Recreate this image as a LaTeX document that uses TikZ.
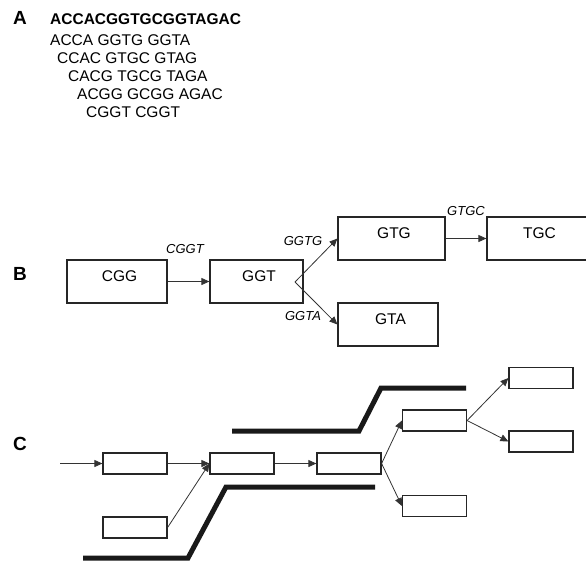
\documentclass[tikz,border=0pt]{standalone}
\usepackage{fontspec}
\setmainfont{Liberation Sans}
\usetikzlibrary{arrows.meta,positioning}
\tikzset{
  >={Triangle[length=8pt,width=7pt]},
  % panel letters and reads
  panel/.style={font=\fontsize{19}{22}\selectfont\bfseries,anchor=base west,inner sep=0pt},
  seq/.style={font=\fontsize{15.5}{18}\selectfont,anchor=base west,inner sep=0pt},
  % k-mer graph
  kbox/.style={draw=black!85,line width=1.2pt,inner sep=0pt,minimum height=43pt,
               text height=10pt,text depth=10pt,font=\fontsize{15.5}{18}\selectfont,
               execute at begin node={\hspace*{5pt}}},
  klbl/.style={font=\fontsize{13}{15}\selectfont\itshape,inner sep=1pt},
  karr/.style={->,draw=black!80,line width=0.8pt},
  % repeat scheme
  sbox/.style={draw=black!85,line width=1.2pt,inner sep=0pt,minimum width=64pt,
               minimum height=21pt},
  wall/.style={draw=black!90,line width=5pt},
}
\begin{document}
\begin{tikzpicture}[x=1pt,y=-1pt]
  \useasboundingbox (0,0) rectangle (586,560);
  % A
  \node[panel] (pa) at (13,24) {A};
  \node[seq,font=\fontsize{15.5}{18}\selectfont\bfseries] (genome) at (50,24) {ACCACGGTGCGGTAGAC};
  \foreach \i/\x/\y/\s in {1/50/45/{ACCA GGTG GGTA},2/57/63.3/{CCAC GTGC GTAG},
      3/68/81/{CACG TGCG TAGA},4/77/99.3/{ACGG GCGG AGAC},5/86/117.5/{CGGT CGGT}}
    \node[seq] (read\i) at (\x,\y) {\s};
  % B
  \node[panel] (pb) at (13,280) {B};
  \node[kbox,minimum width=100pt] (cgg) at (117,281.5) {CGG};
  \node[kbox,minimum width=93pt] (ggt) at (256.5,281.5) {GGT};
  \node[kbox,minimum width=107pt] (gtg) at (391.5,238.5) {GTG};
  \node[kbox,minimum width=100pt] (tgc) at (537,238.5) {TGC};
  \node[kbox,minimum width=100pt] (gta) at (388,324.5) {GTA};
  \coordinate (fork) at (295,282);
  \draw[karr] (cgg) -- (ggt);
  \draw[karr] (fork) -- (gtg.west);
  \draw[karr] (fork) -- (gta.west);
  \draw[karr] (gtg) -- (tgc);
  \node[klbl] (lcggt) at (185,249) {CGGT};
  \node[klbl] (lggtg) at (303,241) {GGTG};
  \node[klbl] (lggta) at (303,316) {GGTA};
  \node[klbl] (lgtgc) at (466,211) {GTGC};
  % C
  \node[panel] (pc) at (13,450.5) {C};
  \node[sbox] (c1) at (135,463.5) {};
  \node[sbox] (c2) at (135,527.5) {};
  \node[sbox] (c3) at (242,463.5) {};
  \node[sbox] (c4) at (349,463.5) {};
  \node[sbox] (c5) at (434.5,420.5) {};
  \node[sbox] (c6) at (434.5,506) {};
  \node[sbox] (c7) at (541,378) {};
  \node[sbox] (c8) at (541,441.5) {};
  \coordinate (in) at (60,463.5);
  \draw[karr] (in) -- (c1);
  \draw[karr] (c1) -- (c3);
  \draw[karr] (c2.east) -- (c3.west);
  \draw[karr] (c3) -- (c4);
  \draw[karr] (c4.east) -- (c5.west);
  \draw[karr] (c4.east) -- (c6.west);
  \draw[karr] (c5.east) -- (c7.west);
  \draw[karr] (c5.east) -- (c8.west);
  \draw[wall] (232,431) -- (359,431) -- (381,388) -- (466,388);
  \draw[wall] (83,558) -- (188,558) -- (226,487) -- (375,487);
\end{tikzpicture}
\end{document}
